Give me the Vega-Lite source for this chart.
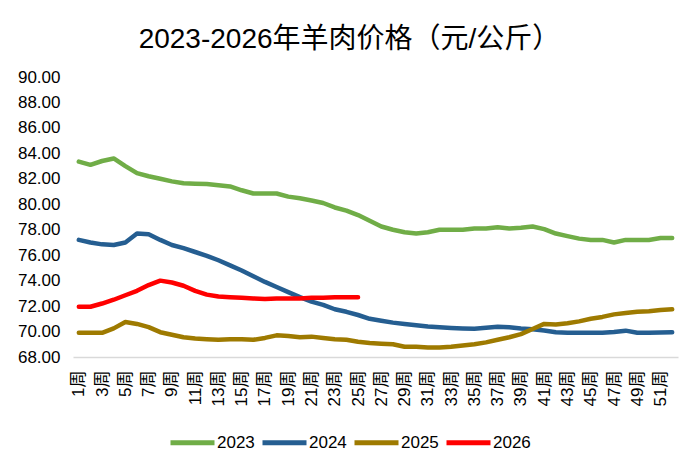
{
  "$schema": "https://vega.github.io/schema/vega-lite/v6.json",
  "description": "2023-2026 mutton price by week",
  "width": 605,
  "height": 280,
  "autosize": {"type": "none"},
  "padding": {"left": 73, "top": 77, "right": 22, "bottom": 115},
  "background": "white",
  "title": {
    "text": "2023-2026年羊肉价格（元/公斤）",
    "fontSize": 28,
    "fontWeight": "normal",
    "color": "#000000",
    "anchor": "middle",
    "baseline": "alphabetic",
    "offset": -8,
    "dx": -26
  },
  "data": {
    "values": [
      {"week": 1, "2023": 83.35, "2024": 77.2, "2025": 69.9, "2026": 71.95},
      {"week": 2, "2023": 83.1, "2024": 77.0, "2025": 69.9, "2026": 71.95},
      {"week": 3, "2023": 83.4, "2024": 76.85, "2025": 69.9, "2026": 72.2},
      {"week": 4, "2023": 83.6, "2024": 76.8, "2025": 70.25, "2026": 72.5},
      {"week": 5, "2023": 83.0, "2024": 77.0, "2025": 70.75, "2026": 72.85},
      {"week": 6, "2023": 82.45, "2024": 77.7, "2025": 70.6, "2026": 73.2},
      {"week": 7, "2023": 82.2, "2024": 77.65, "2025": 70.35, "2026": 73.65},
      {"week": 8, "2023": 82.0, "2024": 77.2, "2025": 69.95, "2026": 74.0},
      {"week": 9, "2023": 81.8, "2024": 76.8, "2025": 69.75, "2026": 73.85},
      {"week": 10, "2023": 81.65, "2024": 76.55, "2025": 69.55, "2026": 73.6},
      {"week": 11, "2023": 81.62, "2024": 76.25, "2025": 69.45, "2026": 73.2},
      {"week": 12, "2023": 81.6, "2024": 75.95, "2025": 69.4, "2026": 72.9},
      {"week": 13, "2023": 81.5, "2024": 75.6, "2025": 69.35, "2026": 72.75},
      {"week": 14, "2023": 81.4, "2024": 75.2, "2025": 69.4, "2026": 72.7},
      {"week": 15, "2023": 81.1, "2024": 74.8, "2025": 69.4, "2026": 72.65},
      {"week": 16, "2023": 80.85, "2024": 74.35, "2025": 69.35, "2026": 72.6},
      {"week": 17, "2023": 80.85, "2024": 73.9, "2025": 69.5, "2026": 72.55},
      {"week": 18, "2023": 80.85, "2024": 73.5, "2025": 69.7, "2026": 72.6},
      {"week": 19, "2023": 80.6, "2024": 73.1, "2025": 69.65, "2026": 72.6},
      {"week": 20, "2023": 80.47, "2024": 72.7, "2025": 69.55, "2026": 72.6},
      {"week": 21, "2023": 80.3, "2024": 72.35, "2025": 69.6, "2026": 72.65},
      {"week": 22, "2023": 80.1, "2024": 72.1, "2025": 69.5, "2026": 72.65},
      {"week": 23, "2023": 79.75, "2024": 71.75, "2025": 69.4, "2026": 72.7},
      {"week": 24, "2023": 79.5, "2024": 71.55, "2025": 69.35, "2026": 72.7},
      {"week": 25, "2023": 79.15, "2024": 71.3, "2025": 69.2, "2026": 72.7},
      {"week": 26, "2023": 78.7, "2024": 71.0, "2025": 69.1},
      {"week": 27, "2023": 78.25, "2024": 70.85, "2025": 69.05},
      {"week": 28, "2023": 78.0, "2024": 70.7, "2025": 69.0},
      {"week": 29, "2023": 77.8, "2024": 70.6, "2025": 68.8},
      {"week": 30, "2023": 77.7, "2024": 70.5, "2025": 68.8},
      {"week": 31, "2023": 77.8, "2024": 70.4, "2025": 68.75},
      {"week": 32, "2023": 78.0, "2024": 70.33, "2025": 68.75},
      {"week": 33, "2023": 78.0, "2024": 70.28, "2025": 68.8},
      {"week": 34, "2023": 78.0, "2024": 70.24, "2025": 68.9},
      {"week": 35, "2023": 78.1, "2024": 70.22, "2025": 69.0},
      {"week": 36, "2023": 78.1, "2024": 70.3, "2025": 69.15},
      {"week": 37, "2023": 78.2, "2024": 70.38, "2025": 69.35},
      {"week": 38, "2023": 78.1, "2024": 70.33, "2025": 69.55},
      {"week": 39, "2023": 78.15, "2024": 70.24, "2025": 69.8},
      {"week": 40, "2023": 78.25, "2024": 70.18, "2025": 70.2},
      {"week": 41, "2023": 78.05, "2024": 70.08, "2025": 70.6},
      {"week": 42, "2023": 77.7, "2024": 69.94, "2025": 70.55},
      {"week": 43, "2023": 77.5, "2024": 69.9, "2025": 70.65},
      {"week": 44, "2023": 77.3, "2024": 69.9, "2025": 70.8},
      {"week": 45, "2023": 77.2, "2024": 69.9, "2025": 71.0},
      {"week": 46, "2023": 77.2, "2024": 69.9, "2025": 71.15},
      {"week": 47, "2023": 77.0, "2024": 69.96, "2025": 71.35},
      {"week": 48, "2023": 77.2, "2024": 70.07, "2025": 71.45},
      {"week": 49, "2023": 77.2, "2024": 69.9, "2025": 71.55},
      {"week": 50, "2023": 77.2, "2024": 69.9, "2025": 71.6},
      {"week": 51, "2023": 77.35, "2024": 69.92, "2025": 71.7},
      {"week": 52, "2023": 77.35, "2024": 69.94, "2025": 71.75}
    ]
  },
  "transform": [
    {"fold": ["2023", "2024", "2025", "2026"], "as": ["year", "price"]},
    {"filter": "isValid(datum.price)"}
  ],
  "mark": {
    "type": "line",
    "strokeWidth": 4.5,
    "strokeJoin": "round",
    "strokeCap": "round"
  },
  "encoding": {
    "x": {
      "field": "week",
      "type": "quantitative",
      "scale": {"domain": [0.5, 52.5], "nice": false, "zero": false},
      "axis": {
        "title": null,
        "values": [1, 3, 5, 7, 9, 11, 13, 15, 17, 19, 21, 23, 25, 27, 29, 31, 33, 35, 37, 39, 41, 43, 45, 47, 49, 51],
        "labelExpr": "datum.value + '周'",
        "labelAngle": -90,
        "labelPadding": 13,
        "labelFontSize": 17,
        "ticks": false,
        "grid": false,
        "domainColor": "#D9D9D9",
        "domainWidth": 1.5
      }
    },
    "y": {
      "field": "price",
      "type": "quantitative",
      "scale": {"domain": [68, 90], "nice": false, "zero": false},
      "axis": {
        "title": null,
        "values": [68, 70, 72, 74, 76, 78, 80, 82, 84, 86, 88, 90],
        "format": ".2f",
        "labelFontSize": 17,
        "labelPadding": 13,
        "ticks": false,
        "grid": false,
        "domain": false
      }
    },
    "color": {
      "field": "year",
      "type": "nominal",
      "scale": {
        "domain": ["2023", "2024", "2025", "2026"],
        "range": ["#70AD47", "#255E91", "#9E7A00", "#FF0000"]
      },
      "legend": {
        "title": null,
        "orient": "none",
        "direction": "horizontal",
        "legendX": 95,
        "legendY": 341,
        "symbolType": "stroke",
        "symbolSize": 1936,
        "symbolStrokeWidth": 5,
        "labelFontSize": 17,
        "labelOffset": 0,
        "columnPadding": -3
      }
    }
  },
  "config": {
    "font": "Liberation Sans, Noto Sans CJK SC",
    "view": {"stroke": null},
    "axis": {"labelColor": "#000000", "labelFont": "Liberation Sans, Noto Sans CJK SC"},
    "legend": {"labelColor": "#000000", "labelFont": "Liberation Sans, Noto Sans CJK SC"}
  }
}
